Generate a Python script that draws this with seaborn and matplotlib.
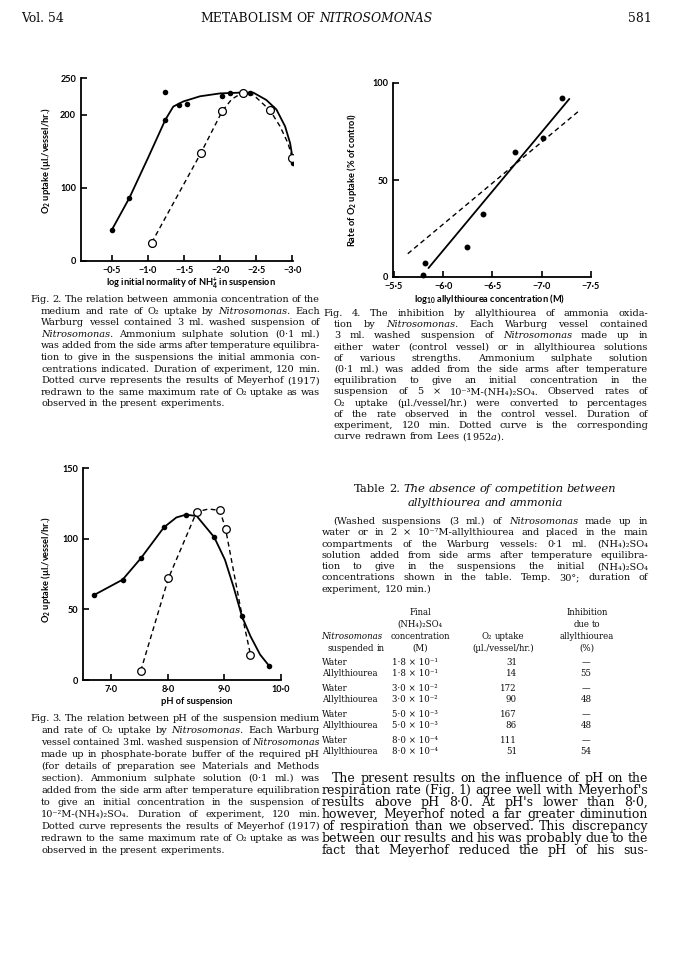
import matplotlib
matplotlib.use("Agg")
import matplotlib.pyplot as plt
import seaborn as sns
import re

# ---- Fig. 2 : ammonia concentration vs O2 uptake
f2_solid_x = [-0.50, -0.74, -1.24, -1.24, -1.43, -1.54, -2.02, -2.14, -2.42, -2.72, -3.01]
f2_solid_y = [43, 86, 193, 231, 213, 215, 226, 230, 230, 209, 134]
f2_open_x = [-1.05, -1.73, -2.03, -2.31, -2.69, -3.00]
f2_open_y = [25, 147, 205, 230, 206, 141]
f2_curve_x = [-0.50, -0.74, -1.00, -1.24, -1.35, -1.49, -1.72, -2.00, -2.28, -2.46, -2.64, -2.78, -2.90, -2.97, -3.00]
f2_curve_y = [43, 86, 141, 193, 211, 218, 225, 229, 230, 230, 220, 207, 184, 161, 143]
f2_dash_x = [-1.05, -1.73, -2.03, -2.16, -2.31, -2.46, -2.69, -2.83, -2.94, -3.00]
f2_dash_y = [25, 147, 205, 221, 230, 227, 206, 184, 161, 141]
f2_xticks = [-0.5, -1.0, -1.5, -2.0, -2.5, -3.0]
f2_xlabels = ["−0·5", "−1·0", "−1·5", "−2·0", "−2·5", "−3·0"]
f2_yticks = [0, 100, 200, 250]

# ---- Fig. 4 : allylthiourea inhibition
f4_x = [-5.79, -5.81, -6.24, -6.40, -6.73, -7.01, -7.21]
f4_y = [1.2, 7.4, 15.6, 32.3, 64.3, 71.6, 92.1]
f4_line_x = [-5.85, -7.28]
f4_line_y = [4.6, 91.8]
f4_lees_x = [-5.64, -7.38]
f4_lees_y = [12.0, 85.7]
f4_xticks = [-5.5, -6.0, -6.5, -7.0, -7.5]
f4_xlabels = ["−5·5", "−6·0", "−6·5", "−7·0", "−7·5"]
f4_yticks = [0, 50, 100]

# ---- Fig. 3 : pH vs O2 uptake
f3_solid_x = [6.69, 7.20, 7.52, 7.93, 8.32, 8.82, 9.31, 9.79]
f3_solid_y = [60, 71, 86, 108, 117, 101, 45, 10]
f3_open_x = [7.52, 8.01, 8.51, 8.92, 9.02, 9.46]
f3_open_y = [6.4, 72, 119, 120, 107, 18]
f3_curve_x = [6.69, 7.20, 7.52, 7.93, 8.15, 8.32, 8.51, 8.82, 9.01, 9.16, 9.31, 9.46, 9.63, 9.79]
f3_curve_y = [60, 71, 86, 108, 115, 117, 116, 101, 85, 66, 45, 31, 18, 10]
f3_dash_x = [7.52, 8.01, 8.51, 8.72, 8.92, 9.02, 9.28, 9.46]
f3_dash_y = [6.4, 72, 119, 121, 120, 107, 52, 18]
f3_xticks = [7.0, 8.0, 9.0, 10.0]
f3_xlabels = ["7·0", "8·0", "9·0", "10·0"]
f3_yticks = [0, 50, 100, 150]

# ---- Table 2
t2_medium = ["Water", "Allylthiourea"] * 4
t2_conc = ["1·8 × 10^{-1}", "1·8 × 10^{-1}", "3·0 × 10^{-2}", "3·0 × 10^{-2}",
           "5·0 × 10^{-3}", "5·0 × 10^{-3}", "8·0 × 10^{-4}", "8·0 × 10^{-4}"]
t2_uptake = [31, 14, 172, 90, 167, 86, 111, 51]
t2_inhib = ["—", "55", "—", "48", "—", "48", "—", "54"]

# ---- page text
fig2_caption = [
    "Fig. 2.  The relation between ammonia concentration of the",
    "medium and rate of O_{2} uptake by *Nitrosomonas.* Each",
    "Warburg vessel contained 3 ml. washed suspension of",
    "*Nitrosomonas.* Ammonium sulphate solution (0·1 ml.)",
    "was added from the side arms after temperature equilibra-",
    "tion to give in the suspensions the initial ammonia con-",
    "centrations indicated. Duration of experiment, 120 min.",
    "Dotted curve represents the results of Meyerhof (1917)",
    "redrawn to the same maximum rate of O_{2} uptake as was",
    "observed in the present experiments.",
]
fig4_caption = [
    "Fig. 4.  The inhibition by allylthiourea of ammonia oxida-",
    "tion by *Nitrosomonas.* Each Warburg vessel contained",
    "3 ml. washed suspension of *Nitrosomonas* made up in",
    "either water (control vessel) or in allylthiourea solutions",
    "of various strengths. Ammonium sulphate solution",
    "(0·1 ml.) was added from the side arms after temperature",
    "equilibration to give an initial concentration in the",
    "suspension of 5 × 10^{-3}M-(NH_{4})_{2}SO_{4}. Observed rates of",
    "O_{2} uptake (µl./vessel/hr.) were converted to percentages",
    "of the rate observed in the control vessel. Duration of",
    "experiment, 120 min. Dotted curve is the corresponding",
    "curve redrawn from Lees (1952$\\mathit{a}$).",
]
table_note = [
    "(Washed suspensions (3 ml.) of *Nitrosomonas* made up in",
    "water or in 2 × 10^{-7}M-allylthiourea and placed in the main",
    "compartments of the Warburg vessels: 0·1 ml. (NH_{4})_{2}SO_{4}",
    "solution added from side arms after temperature equilibra-",
    "tion to give in the suspensions the initial (NH_{4})_{2}SO_{4}",
    "concentrations shown in the table. Temp. 30°; duration of",
    "experiment, 120 min.)",
]
fig3_caption = [
    "Fig. 3.  The relation between pH of the suspension medium",
    "and rate of O_{2} uptake by *Nitrosomonas.* Each Warburg",
    "vessel contained 3 ml. washed suspension of *Nitrosomonas*",
    "made up in phosphate-borate buffer of the required pH",
    "(for details of preparation see Materials and Methods",
    "section). Ammonium sulphate solution (0·1 ml.) was",
    "added from the side arm after temperature equilibration",
    "to give an initial concentration in the suspension of",
    "10^{-2}M-(NH_{4})_{2}SO_{4}. Duration of experiment, 120 min.",
    "Dotted curve represents the results of Meyerhof (1917)",
    "redrawn to the same maximum rate of O_{2} uptake as was",
    "observed in the present experiments.",
]
body_text = [
    "The present results on the influence of pH on the",
    "respiration rate (Fig. 1) agree well with Meyerhof's",
    "results above pH 8·0. At pH's lower than 8·0,",
    "however, Meyerhof noted a far greater diminution",
    "of respiration than we observed. This discrepancy",
    "between our results and his was probably due to the",
    "fact that Meyerhof reduced the pH of his sus-",
]

sns.set_theme(style="white")
plt.rcParams["font.family"] = ["DejaVu Serif", "DejaVu Sans"]
plt.rcParams["mathtext.fontset"] = "dejavuserif"
SANS = ["Lato", "DejaVu Sans"]
INK = "#0d0d0d"
SUB = str.maketrans("0123456789+-", "₀₁₂₃₄₅₆₇₈₉₊⁻")
SUP = str.maketrans("0123456789+-", "⁰¹²³⁴⁵⁶⁷⁸⁹⁺⁻")


def uni(s):
    # _{..} / ^{..} -> unicode sub/superscripts
    s = re.sub(r"_\{([^}]*)\}", lambda m: m.group(1).translate(SUB), s)
    s = re.sub(r"\^\{([^}]*)\}", lambda m: m.group(1).translate(SUP), s)
    return s


fig = plt.figure(figsize=(6.73, 9.6), dpi=100)
page = fig.add_axes([0, 0, 1, 1])
page.set_xlim(0, 673)
page.set_ylim(960, 0)
page.axis("off")
renderer = fig.canvas.get_renderer()


def split_word(w):
    if w.startswith("*") and w.endswith("*") and len(w) > 1:
        return uni(w[1:-1]), "italic"
    return uni(w), "normal"


def width_of(text, size):
    total = 0
    words = text.split()
    for w in words:
        s, style = split_word(w)
        t = page.text(0, 0, s, fontsize=size, fontstyle=style)
        total += t.get_window_extent(renderer).width
        t.remove()
    return total + 0.3 * size * 100 / 72 * (len(words) - 1)


def size_for(text, target, base=8.0):
    return base * target / width_of(text, base)


def put_line(text, x0, x1, y, size, mode="justify"):
    arts = []
    for w in text.split():
        s, style = split_word(w)
        arts.append(page.text(x0, y, s, fontsize=size, fontstyle=style,
                              ha="left", va="baseline", color=INK))
    widths = [a.get_window_extent(renderer).width for a in arts]
    n = len(arts)
    if mode == "justify" and sum(widths) + 1.6 * (n - 1) > x1 - x0:
        # line too long for the measure: set it a touch smaller
        for a in arts:
            a.remove()
        put_line(text, x0, x1, y, size * (x1 - x0 - 1.8 * (n - 1)) / sum(widths), mode)
        return
    gap = 0.3 * size * 100 / 72
    total = sum(widths) + gap * (n - 1)
    start = x0
    if mode == "justify" and n > 1:
        gap = (x1 - x0 - sum(widths)) / (n - 1)
    elif mode == "center":
        start = (x0 + x1) / 2 - total / 2
    elif mode == "right":
        start = x1 - total
    x = start
    for a, w in zip(arts, widths):
        a.set_x(x)
        x += w + gap


def paragraph(lines, x0, x1, y0, step, first=0, hang=0, last_just=False, size=None):
    if size is None:
        fit = lines if last_just else lines[:-1]
        sizes = sorted(size_for(l, x1 - x0 - (first if i == 0 else hang))
                       for i, l in enumerate(fit))
        size = sizes[len(sizes) // 4]
    for i, line in enumerate(lines):
        left = x0 + (first if i == 0 else hang)
        last = i == len(lines) - 1
        put_line(line, left, x1, y0 + i * step, size,
                 "justify" if (not last or last_just) else "left")
    return size


def style_axes(ax, xticks, xlabels, yticks):
    for s in ["top", "right"]:
        ax.spines[s].set_visible(False)
    for s in ["left", "bottom"]:
        ax.spines[s].set_color("black")
        ax.spines[s].set_linewidth(1.3)
    ax.set_facecolor("none")
    ax.set_xticks(xticks, xlabels, fontsize=6.6, fontfamily=SANS, fontweight="bold")
    ax.set_yticks(yticks, [str(v) for v in yticks], fontsize=6.6, fontfamily=SANS,
                  fontweight="bold")
    ax.tick_params(direction="in", length=4.5, width=1.2, colors="black",
                   bottom=True, left=True, pad=3.5)
    ax.grid(False)


lab = dict(fontsize=6.7, fontfamily=SANS, fontweight="bold", color="black")
solid = dict(color="black", lw=1.3, sort=False, estimator=None)
dash = dict(color="black", lw=1.0, sort=False, estimator=None, linestyle=(0, (3.5, 2.5)))

# Fig. 2
ax2 = fig.add_axes([81 / 673, 1 - 261 / 960, 212 / 673, 183 / 960])
sns.lineplot(x=f2_curve_x, y=f2_curve_y, ax=ax2, **solid)
sns.lineplot(x=f2_dash_x, y=f2_dash_y, ax=ax2, **dash)
sns.scatterplot(x=f2_solid_x, y=f2_solid_y, ax=ax2, color="black", s=16, linewidth=0, zorder=4)
sns.scatterplot(x=f2_open_x, y=f2_open_y, ax=ax2, color="white", edgecolor="black",
                linewidth=0.9, s=32, zorder=5)
style_axes(ax2, f2_xticks, f2_xlabels, f2_yticks)
ax2.set_xlim(-0.07, -3.01)
ax2.set_ylim(0, 250)
ax2.set_xlabel("log initial normality of NH$_\\mathregular{4}^\\mathregular{+}$ in suspension", **lab)
ax2.set_ylabel("O$_\\mathregular{2}$ uptake (µl./vessel/hr.)", **lab)
ax2.xaxis.set_label_coords(0.52, -0.075)
ax2.yaxis.set_label_coords(-0.13, 0.55)

# Fig. 4
ax4 = fig.add_axes([393 / 673, 1 - 277 / 960, 198 / 673, 194 / 960])
sns.lineplot(x=f4_line_x, y=f4_line_y, ax=ax4, **solid)
sns.lineplot(x=f4_lees_x, y=f4_lees_y, ax=ax4, **dash)
sns.scatterplot(x=f4_x, y=f4_y, ax=ax4, color="black", s=18, linewidth=0, zorder=4, clip_on=False)
style_axes(ax4, f4_xticks, f4_xlabels, f4_yticks)
ax4.set_xlim(-5.49, -7.5)
ax4.set_ylim(0, 100)
ax4.set_xlabel("log$_\\mathregular{10}$ allylthiourea concentration (M)", **lab)
ax4.set_ylabel("Rate of O$_\\mathregular{2}$ uptake (% of control)", **lab)
ax4.xaxis.set_label_coords(0.49, -0.075)
ax4.yaxis.set_label_coords(-0.17, 0.5)

# Fig. 3
ax3 = fig.add_axes([83 / 673, 1 - 680 / 960, 198 / 673, 212 / 960])
sns.lineplot(x=f3_curve_x, y=f3_curve_y, ax=ax3, **solid)
sns.lineplot(x=f3_dash_x, y=f3_dash_y, ax=ax3, **dash)
sns.scatterplot(x=f3_solid_x, y=f3_solid_y, ax=ax3, color="black", s=16, linewidth=0, zorder=4)
sns.scatterplot(x=f3_open_x, y=f3_open_y, ax=ax3, color="white", edgecolor="black",
                linewidth=0.9, s=30, zorder=5)
style_axes(ax3, f3_xticks, f3_xlabels, f3_yticks)
ax3.set_xlim(6.5, 10.0)
ax3.set_ylim(0, 150)
ax3.set_xlabel("pH of suspension", **lab)
ax3.set_ylabel("O$_\\mathregular{2}$ uptake (µl./vessel/hr.)", **lab)
ax3.xaxis.set_label_coords(0.576, -0.08)
ax3.yaxis.set_label_coords(-0.15, 0.52)

# running head
head = size_for("METABOLISM OF *NITROSOMONAS*", 232)
put_line("Vol. 54", 21, 90, 22, head, "left")
put_line("METABOLISM OF *NITROSOMONAS*", 200, 432, 22, head, "center")
put_line("581", 560, 652, 22, head, "right")

# captions and text
cap = paragraph(fig2_caption, 30, 320, 302, 11.6, hang=11)
paragraph(fig4_caption, 323, 648, 316, 11.2, hang=11, size=cap)
tsize = size_for("Table 2. *The* *absence* *of* *competition* *between*", 262)
put_line("Table 2. *The* *absence* *of* *competition* *between*", 322, 648, 492, tsize, "center")
put_line("*allylthiourea* *and* *ammonia*", 322, 648, 506, tsize, "center")
paragraph(table_note, 322, 648, 524, 11.3, first=11, size=cap)

th = size_for("concentration", 61)
put_line("Final", 386, 454, 615, th, "center")
put_line("(NH_{4})_{2}SO_{4}", 386, 454, 627, th, "center")
put_line("*Nitrosomonas*", 321, 400, 639, th, "left")
put_line("concentration", 386, 454, 639, th, "center")
put_line("O_{2} uptake", 468, 538, 639, th, "center")
put_line("Inhibition", 550, 624, 615, th, "center")
put_line("due to", 550, 624, 627, th, "center")
put_line("allylthiourea", 550, 624, 639, th, "center")
put_line("suspended in", 322, 390, 651, th, "center")
put_line("(M)", 386, 454, 651, th, "center")
put_line("(µl./vessel/hr.)", 468, 538, 651, th, "center")
put_line("(%)", 550, 624, 651, th, "center")
row_y = [665, 676, 691, 702, 717, 728, 743, 754]
for y, med, c, u, inh in zip(row_y, t2_medium, t2_conc, t2_uptake, t2_inhib):
    page.text(322, y, med, fontsize=th, ha="left", va="baseline", color=INK)
    page.text(392, y, uni(c), fontsize=th, ha="left", va="baseline", color=INK)
    page.text(517, y, str(u), fontsize=th, ha="right", va="baseline", color=INK)
    page.text(586, y, inh, fontsize=th, ha="center", va="baseline", color=INK)

paragraph(fig3_caption, 30, 320, 721, 12.0, hang=11, size=cap)
paragraph(body_text, 322, 648, 782, 12.0, first=10, last_just=True)

fig.savefig("out.png", dpi=100, facecolor="white")
